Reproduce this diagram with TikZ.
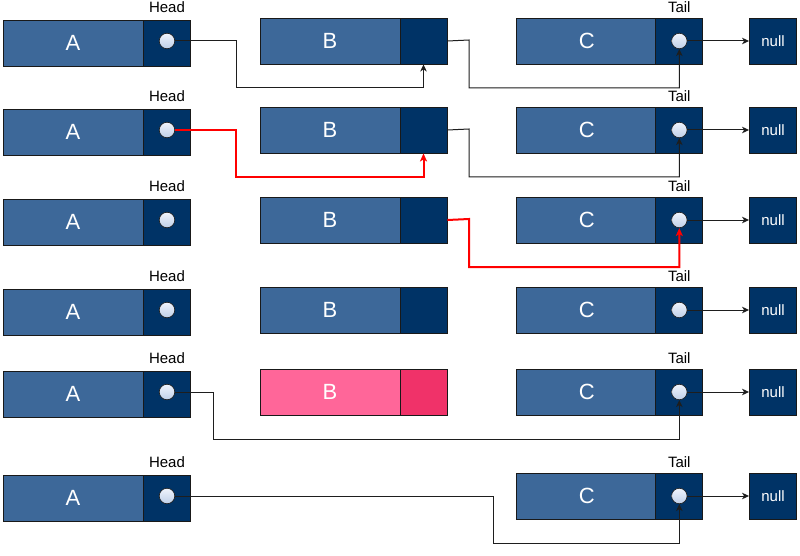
\documentclass[tikz,border=0pt]{standalone}
\usepackage{fontspec}
\setmainfont{Liberation Sans}
\usetikzlibrary{arrows.meta}
\definecolor{mainblue}{RGB}{61,104,153}
\definecolor{darkblue}{RGB}{0,51,102}
\definecolor{pinkmain}{RGB}{255,102,153}
\definecolor{pinkdark}{RGB}{240,50,105}
\definecolor{edgec}{RGB}{30,30,30}
\definecolor{dottop}{RGB}{240,244,252}
\definecolor{dotbot}{RGB}{190,207,232}
\definecolor{borderc}{RGB}{25,25,25}
\begin{document}
\begin{tikzpicture}[x=1pt,y=-1pt,
  cell/.style={draw=borderc, line width=0.9pt, minimum height=46pt, inner sep=0pt,
    text=white, font=\fontsize{22}{26}\selectfont},
  mainbox/.style={cell, fill=mainblue, minimum width=140pt},
  ptrbox/.style={cell, fill=darkblue, minimum width=47pt},
  pinkbox/.style={cell, fill=pinkmain, minimum width=140pt},
  pinkptr/.style={cell, fill=pinkdark, minimum width=47pt},
  nullbox/.style={cell, fill=darkblue, minimum width=47pt, font=\fontsize{15}{18}\selectfont},
  dot/.style={circle, draw=borderc, line width=0.6pt, minimum size=15.5pt, inner sep=0pt,
    top color=dottop, bottom color=dotbot},
  lbl/.style={font=\fontsize{15}{18}\selectfont, text=black, inner sep=0pt},
  conn/.style={draw=edgec, line width=1pt, -{Stealth[length=7pt,width=6.5pt,inset=2pt]}},
  redconn/.style={draw=red, line width=2pt, -{Stealth[length=8pt,width=7pt,inset=2pt]}}
]
\useasboundingbox[fill=white] (0,0) rectangle (800,556);

\foreach \r/\yb in {1/18,2/107,3/197,4/287,5/369,6/473}{
  % A node
  \node[mainbox, text depth=-3pt] (a\r) at (73,\yb+25) {A};
  \node[ptrbox] (ap\r) at (166.5,\yb+25) {};
  \node[dot] (ac\r) at (167,\yb+23) {};
  \node[lbl] (head\r) at (167,\yb-11) {Head};
  % C node
  \node[mainbox, text depth=-3pt] (c\r) at (586.7,\yb+23) {C};
  \node[ptrbox] (cp\r) at (679.3,\yb+23) {};
  \node[dot] (cc\r) at (679.3,\yb+23) {};
  \node[lbl] (tail\r) at (679.3,\yb-11) {Tail};
  % null
  \node[nullbox] (n\r) at (773,\yb+23) {null};
  \draw[conn] (cc\r.east) -- (n\r.west);
}
% B nodes
\foreach \r/\yb in {1/18,2/107,3/197,4/287}{
  \node[mainbox, text depth=-3pt] (b\r) at (330,\yb+23) {B};
  \node[ptrbox] (bp\r) at (423.5,\yb+23) {};
}
\node[pinkbox, text depth=-3pt] (b5) at (330,369+23) {B};
\node[pinkptr] (bp5) at (423.5,369+23) {};

% Row 1
\draw[conn] (ac1.east) -| (236,88) -| (bp1.south);
\draw[conn] (bp1.east) -- (469,40) |- (679.3,88) -- (cc1.south);
% Row 2
\draw[conn] (bp2.east) -- (469,129) |- (679.3,177) -- (cc2.south);
\draw[redconn] (ac2.east) -| (236,177) -| (bp2.south);
% Row 3
\draw[redconn] (bp3.east) -- (469,219) |- (679.3,267) -- (cc3.south);
% Row 5
\draw[conn] (ac5.east) -| (213,439) -| (cc5.south);
% Row 6
\draw[conn] (ac6.east) -| (493,543) -| (cc6.south);
\end{tikzpicture}
\end{document}
